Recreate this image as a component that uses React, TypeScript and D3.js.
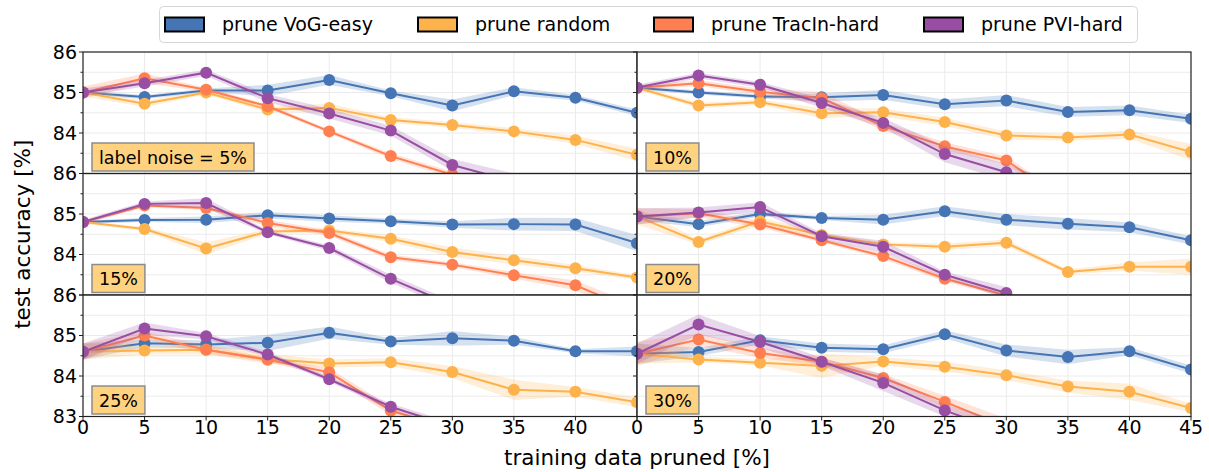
import React, { useEffect, useRef } from "react";
import * as d3 from "d3";

// Fraction of the training data that was pruned (x axis), in percent
const prunedPct = [0, 5, 10, 15, 20, 25, 30, 35, 40, 45];

// One panel per label-noise level
const noiseLabels = ["label noise = 5%", "10%", "15%", "20%", "25%", "30%"];

// Mean test accuracy per panel (rows follow noiseLabels)
const vogEasyMean = [
  [85.0, 84.89, 85.05, 85.05, 85.31, 84.98, 84.68, 85.03, 84.87, 84.5],
  [85.12, 85.0, 84.9, 84.88, 84.94, 84.71, 84.8, 84.52, 84.56, 84.35],
  [84.8, 84.85, 84.86, 84.97, 84.89, 84.82, 84.74, 84.75, 84.74, 84.28],
  [84.94, 84.75, 85.0, 84.9, 84.86, 85.07, 84.86, 84.76, 84.67, 84.35],
  [84.6, 84.81, 84.78, 84.82, 85.07, 84.85, 84.93, 84.87, 84.61, 84.61],
  [84.55, 84.59, 84.88, 84.7, 84.66, 85.03, 84.63, 84.47, 84.61, 84.16],
];
const vogEasyStd = [
  [0.05, 0.05, 0.05, 0.14, 0.12, 0.07, 0.15, 0.1, 0.07, 0.08],
  [0.05, 0.05, 0.05, 0.1, 0.12, 0.12, 0.14, 0.12, 0.12, 0.1],
  [0.04, 0.05, 0.08, 0.08, 0.08, 0.06, 0.08, 0.16, 0.16, 0.2],
  [0.1, 0.08, 0.06, 0.05, 0.12, 0.12, 0.14, 0.14, 0.12, 0.1],
  [0.2, 0.1, 0.1, 0.2, 0.15, 0.08, 0.18, 0.1, 0.05, 0.12],
  [0.25, 0.1, 0.1, 0.1, 0.1, 0.1, 0.15, 0.18, 0.1, 0.1],
];

const randomMean = [
  [85.0, 84.72, 85.0, 84.58, 84.62, 84.32, 84.2, 84.04, 83.83, 83.46],
  [85.12, 84.68, 84.76, 84.49, 84.51, 84.27, 83.94, 83.89, 83.96, 83.53],
  [84.8, 84.63, 84.15, 84.57, 84.59, 84.39, 84.06, 83.86, 83.66, 83.43],
  [84.94, 84.31, 84.82, 84.48, 84.25, 84.19, 84.29, 83.57, 83.7, 83.7],
  [84.6, 84.63, 84.65, 84.42, 84.31, 84.34, 84.1, 83.66, 83.61, 83.35],
  [84.55, 84.41, 84.33, 84.25, 84.36, 84.23, 84.02, 83.74, 83.61, 83.21],
];
const randomStd = [
  [0.1, 0.08, 0.05, 0.07, 0.1, 0.07, 0.07, 0.08, 0.1, 0.15],
  [0.05, 0.07, 0.07, 0.12, 0.1, 0.1, 0.1, 0.08, 0.1, 0.2],
  [0.04, 0.05, 0.15, 0.06, 0.06, 0.08, 0.12, 0.1, 0.08, 0.06],
  [0.2, 0.06, 0.1, 0.06, 0.05, 0.08, 0.08, 0.06, 0.1, 0.2],
  [0.2, 0.1, 0.12, 0.12, 0.1, 0.1, 0.15, 0.25, 0.12, 0.12],
  [0.25, 0.07, 0.07, 0.3, 0.1, 0.12, 0.12, 0.15, 0.2, 0.1],
];

const tracInMean = [
  [85.0, 85.35, 85.07, 84.66, 84.04, 83.43, 82.97],
  [85.12, 85.23, 85.02, 84.86, 84.17, 83.67, 83.32, 82.3],
  [84.8, 85.21, 85.15, 84.78, 84.53, 83.93, 83.75, 83.49, 83.24, 82.6],
  [84.94, 85.02, 84.74, 84.35, 83.96, 83.4, 82.99],
  [84.6, 85.0, 84.65, 84.4, 84.09, 83.14, 82.7],
  [84.55, 84.9, 84.57, 84.35, 83.95, 83.36, 82.75],
];
const tracInStd = [
  [0.15, 0.12, 0.05, 0.05, 0.05, 0.07, 0.08],
  [0.05, 0.07, 0.08, 0.15, 0.1, 0.1, 0.1, 0.1],
  [0.04, 0.05, 0.05, 0.08, 0.07, 0.07, 0.06, 0.08, 0.12, 0.15],
  [0.2, 0.1, 0.08, 0.05, 0.07, 0.07, 0.05],
  [0.2, 0.1, 0.1, 0.06, 0.1, 0.1, 0.15],
  [0.3, 0.15, 0.12, 0.1, 0.1, 0.15, 0.2],
];

const pviMean = [
  [85.0, 85.23, 85.49, 84.86, 84.48, 84.06, 83.21, 82.8],
  [85.12, 85.42, 85.19, 84.74, 84.25, 83.48, 83.03, 82.5],
  [84.8, 85.25, 85.27, 84.55, 84.16, 83.4, 82.75],
  [84.94, 85.04, 85.17, 84.45, 84.19, 83.5, 83.05],
  [84.6, 85.17, 84.98, 84.53, 83.92, 83.24, 82.75],
  [84.55, 85.27, 84.84, 84.35, 83.83, 83.15, 82.6],
];
const pviStd = [
  [0.1, 0.08, 0.08, 0.1, 0.12, 0.12, 0.15, 0.2],
  [0.07, 0.07, 0.07, 0.12, 0.12, 0.2, 0.2, 0.2],
  [0.05, 0.06, 0.12, 0.05, 0.07, 0.1, 0.1],
  [0.2, 0.12, 0.12, 0.08, 0.15, 0.08, 0.15],
  [0.2, 0.15, 0.08, 0.06, 0.06, 0.08, 0.1],
  [0.25, 0.25, 0.15, 0.1, 0.2, 0.15, 0.25],
];

const methodNames = ["prune VoG-easy", "prune random", "prune TracIn-hard", "prune PVI-hard"];
const methodColors = ["#4575b4", "#feb24c", "#ff7f50", "#984ea3"];

const yTicks = [83, 84, 85, 86];

const W = 1209;
const H = 472;
const LEFT = 83;
const TOP = 52;
const PANEL_W = 554;
const PANEL_H = 121.5;
const FONT = "'DejaVu Sans', sans-serif";

export default function App() {
  const ref = useRef<SVGSVGElement>(null);

  useEffect(() => {
    const svg = d3.select(ref.current);
    svg.selectAll("*").remove();

    const x = d3.scaleLinear().domain([0, 45]).range([0, PANEL_W]);
    const y = d3.scaleLinear().domain([83, 86]).range([PANEL_H, 0]);

    svg.append("defs")
      .append("clipPath")
      .attr("id", "panel-clip")
      .append("rect")
      .attr("width", PANEL_W)
      .attr("height", PANEL_H);

    const series = [
      { mean: vogEasyMean, std: vogEasyStd },
      { mean: randomMean, std: randomStd },
      { mean: tracInMean, std: tracInStd },
      { mean: pviMean, std: pviStd },
    ];

    const line = d3.line<number>().x((_, i) => x(prunedPct[i])).y((d) => y(d));
    const area = d3
      .area<[number, number]>()
      .x((_, i) => x(prunedPct[i]))
      .y0((d) => y(d[0] - d[1]))
      .y1((d) => y(d[0] + d[1]));

    const gridY = d3.range(83, 86.01, 0.5);
    const labelLayer: d3.Selection<SVGGElement, unknown, null, undefined>[] = [];

    noiseLabels.forEach((label, p) => {
      const col = p % 2;
      const row = Math.floor(p / 2);
      const g = svg
        .append("g")
        .attr("transform", `translate(${LEFT + col * PANEL_W},${TOP + row * PANEL_H})`);

      const body = g.append("g").attr("clip-path", "url(#panel-clip)");

      // light grid
      body.selectAll("line.gx")
        .data(prunedPct)
        .join("line")
        .attr("x1", (d) => x(d))
        .attr("x2", (d) => x(d))
        .attr("y1", 0)
        .attr("y2", PANEL_H)
        .attr("stroke", "#ebebeb")
        .attr("stroke-width", 1);
      body.selectAll("line.gy")
        .data(gridY)
        .join("line")
        .attr("x1", 0)
        .attr("x2", PANEL_W)
        .attr("y1", (d) => y(d))
        .attr("y2", (d) => y(d))
        .attr("stroke", "#ebebeb")
        .attr("stroke-width", 1);

      series.forEach((s, k) => {
        const m = s.mean[p];
        const sd = s.std[p];
        const pairs = m.map((v, i) => [v, sd[i]] as [number, number]);
        body.append("path")
          .attr("d", area(pairs) || "")
          .attr("fill", methodColors[k])
          .attr("fill-opacity", 0.22)
          .attr("stroke", "none");
        body.append("path")
          .attr("d", line(m) || "")
          .attr("fill", "none")
          .attr("stroke", methodColors[k])
          .attr("stroke-width", 2);
        body.selectAll(null)
          .data(m)
          .join("circle")
          .attr("cx", (_, i) => x(prunedPct[i]))
          .attr("cy", (d) => y(d))
          .attr("r", 6)
          .attr("fill", methodColors[k]);
      });

      // noise-level tag
      const tag = g.append("g");
      const txt = tag.append("text")
        .attr("x", 16)
        .attr("y", PANEL_H - 10)
        .attr("font-family", FONT)
        .attr("font-size", 17.5)
        .attr("fill", "#000")
        .text(label);
      const tw = (txt.node() as SVGTextElement).getComputedTextLength();
      tag.insert("rect", "text")
        .attr("x", 9)
        .attr("y", PANEL_H - 30.5)
        .attr("width", tw + 14)
        .attr("height", 28)
        .attr("fill", "#ffd280")
        .attr("stroke", "#8c8c8c")
        .attr("stroke-width", 1.5);

      // frame
      g.append("rect")
        .attr("width", PANEL_W)
        .attr("height", PANEL_H)
        .attr("fill", "none")
        .attr("stroke", "#222")
        .attr("stroke-width", 1.2);

      // left ticks (major + minor)
      g.selectAll("line.tk")
        .data(gridY)
        .join("line")
        .attr("x1", (d) => (Number.isInteger(d) ? -4 : -2.5))
        .attr("x2", 0)
        .attr("y1", (d) => y(d))
        .attr("y2", (d) => y(d))
        .attr("stroke", "#222")
        .attr("stroke-width", 1);

      const lg = svg.append("g").attr("transform", `translate(${LEFT + col * PANEL_W},${TOP + row * PANEL_H})`);
      labelLayer.push(lg);
      if (col === 0) {
        const shown = row === 2 ? yTicks : yTicks.filter((t) => t > 83);
        lg.selectAll("text.yt")
          .data(shown)
          .join("text")
          .attr("x", -6)
          .attr("y", (d) => y(d))
          .attr("dy", "0.36em")
          .attr("text-anchor", "end")
          .attr("font-family", FONT)
          .attr("font-size", 19)
          .text((d) => String(d));
      }
      if (row === 2) {
        const shownX = col === 0 ? prunedPct.filter((t) => t < 45) : prunedPct;
        lg.selectAll("line.xt")
          .data(prunedPct)
          .join("line")
          .attr("x1", (d) => x(d))
          .attr("x2", (d) => x(d))
          .attr("y1", PANEL_H)
          .attr("y2", PANEL_H + 4)
          .attr("stroke", "#222");
        lg.selectAll("text.xt")
          .data(shownX)
          .join("text")
          .attr("x", (d) => x(d))
          .attr("y", PANEL_H + 17.5)
          .attr("text-anchor", "middle")
          .attr("font-family", FONT)
          .attr("font-size", 19)
          .text((d) => String(d));
      }
    });

    // axis titles
    svg.append("text")
      .attr("x", LEFT + PANEL_W)
      .attr("y", 465)
      .attr("text-anchor", "middle")
      .attr("font-family", FONT)
      .attr("font-size", 21.5)
      .text("training data pruned [%]");
    svg.append("text")
      .attr("transform", `translate(30,${TOP + (PANEL_H * 3) / 2}) rotate(-90)`)
      .attr("text-anchor", "middle")
      .attr("font-family", FONT)
      .attr("font-size", 21.5)
      .text("test accuracy [%]");

    // legend
    const legend = svg.append("g");
    legend.append("rect")
      .attr("x", 159.5)
      .attr("y", 6.5)
      .attr("width", 978)
      .attr("height", 36)
      .attr("rx", 4)
      .attr("fill", "#fff")
      .attr("stroke", "#d6d6d6")
      .attr("stroke-width", 1);
    const patchX = [165, 418, 654, 924];
    methodNames.forEach((name, k) => {
      legend.append("rect")
        .attr("x", patchX[k])
        .attr("y", 17.5)
        .attr("width", 39)
        .attr("height", 14)
        .attr("fill", methodColors[k])
        .attr("stroke", "#000")
        .attr("stroke-width", 2);
      legend.append("text")
        .attr("x", patchX[k] + 57)
        .attr("y", 30.5)
        .attr("font-family", FONT)
        .attr("font-size", 19)
        .text(name);
    });
  }, []);

  return (
    <svg
      ref={ref}
      width={W}
      height={H}
      style={{ position: "absolute", left: 0, top: 0, background: "#fff" }}
    />
  );
}
